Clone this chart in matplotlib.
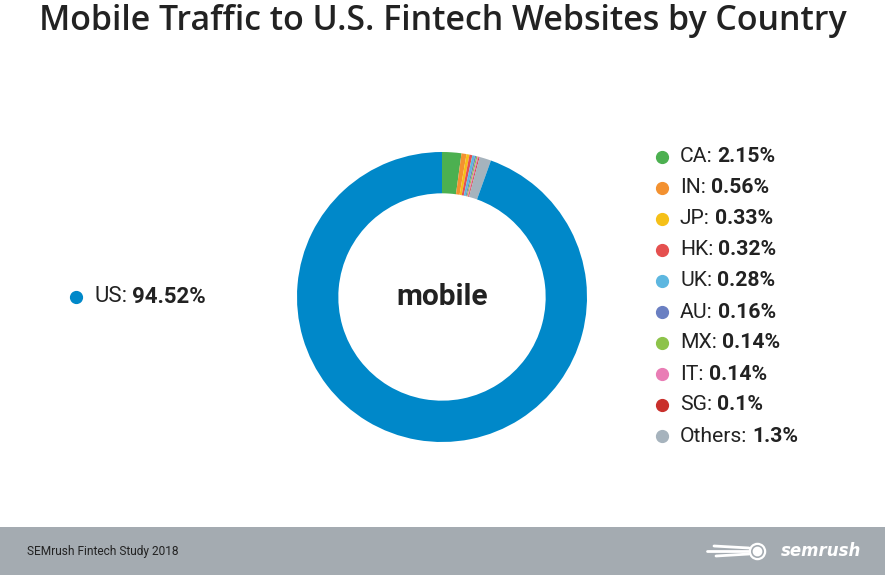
import matplotlib
matplotlib.use('Agg')
import matplotlib.pyplot as plt
from matplotlib.patches import Rectangle

# data
countries = ['CA', 'IN', 'JP', 'HK', 'UK', 'AU', 'MX', 'IT', 'SG', 'Others', 'US']
shares = [2.15, 0.56, 0.33, 0.32, 0.28, 0.16, 0.14, 0.14, 0.1, 1.3, 94.52]
share_labels = ['2.15%', '0.56%', '0.33%', '0.32%', '0.28%', '0.16%', '0.14%', '0.14%', '0.1%', '1.3%', '94.52%']
colors = ['#4cb050', '#f39130', '#f5c018', '#e5504f', '#5db7e0', '#6a7fc2',
          '#8dc34a', '#e97db5', '#c9302c', '#a6b3bd', '#0088c9']

title = 'Mobile Traffic to U.S. Fintech Websites by Country'
center_label = 'mobile'
footer_text = 'SEMrush Fintech Study 2018'

W, H = 885, 575


def fx(px):
    return px / W


def fy(py):
    return 1 - py / H


fig = plt.figure(figsize=(W / 100, H / 100), dpi=100)
fig.patch.set_facecolor('white')

# donut
cx, cy, r = 442, 297, 145
ax = fig.add_axes([fx(cx - r), fy(cy + r), 2 * r / W, 2 * r / H])
ax.pie(shares, colors=colors, startangle=90, counterclock=False,
       wedgeprops=dict(width=0.285, linewidth=0))
ax.set_xlim(-1, 1)
ax.set_ylim(-1, 1)
ax.set_aspect('equal')
ax.axis('off')
ax.text(0, 0, center_label, ha='center', va='center', fontsize=21.5,
        fontweight='bold', family='Roboto', color='#222222')

fig.text(0.5, fy(21), title, ha='center', va='center', fontsize=24.4,
         family='Open Sans', fontweight='semibold', color='#222222')

renderer = fig.canvas.get_renderer()


def legend_entry(x, y, name, value, color, size=15.2):
    fig.add_artist(plt.Line2D([fx(x)], [fy(y)], marker='o', markersize=8.5,
                              color=color, linestyle='none'))
    t = fig.text(fx(x + 18), fy(y), name + ':', ha='left', va='center',
                 fontsize=size, family='Roboto', color='#222222')
    bb = t.get_window_extent(renderer=renderer)
    fig.text(bb.x1 / W + 5 / W, fy(y), value, ha='left', va='center', fontsize=size,
             family='Roboto', fontweight='bold', color='#222222')


# right legend: all but US
for i in range(len(countries) - 1):
    legend_entry(662, 157 + 31 * i, countries[i], share_labels[i], colors[i])

# US legend on the left
legend_entry(76, 297, countries[-1], share_labels[-1], colors[-1], size=16)

# footer band
fig.patches.append(Rectangle((0, 0), 1, 48 / H, transform=fig.transFigure,
                             facecolor='#a4abb1', edgecolor='none'))
fig.text(fx(27), fy(552), footer_text, ha='left', va='center', fontsize=8.6,
         family='Roboto', color='#222222', fontstretch='condensed')
fig.text(fx(861), fy(551), 'semrush', ha='right', va='center', fontsize=12,
         family='DejaVu Sans', fontweight='bold', style='italic', color='white')
# flame-like swoosh lines of the logo
for (x0, y0, y1) in [(714, 546, 548), (707, 551, 551), (716, 556, 554)]:
    fig.add_artist(plt.Line2D([fx(x0), fx(749)], [fy(y0), fy(y1)],
                              color='white', linewidth=2, solid_capstyle='round'))
fig.add_artist(plt.Line2D([fx(757)], [fy(551)], marker='o', markersize=11,
                          markerfacecolor='none', markeredgecolor='white',
                          markeredgewidth=1.6, linestyle='none'))
fig.add_artist(plt.Line2D([fx(757)], [fy(551)], marker='o', markersize=6,
                          color='white', linestyle='none'))

fig.savefig('out.png', dpi=100)
